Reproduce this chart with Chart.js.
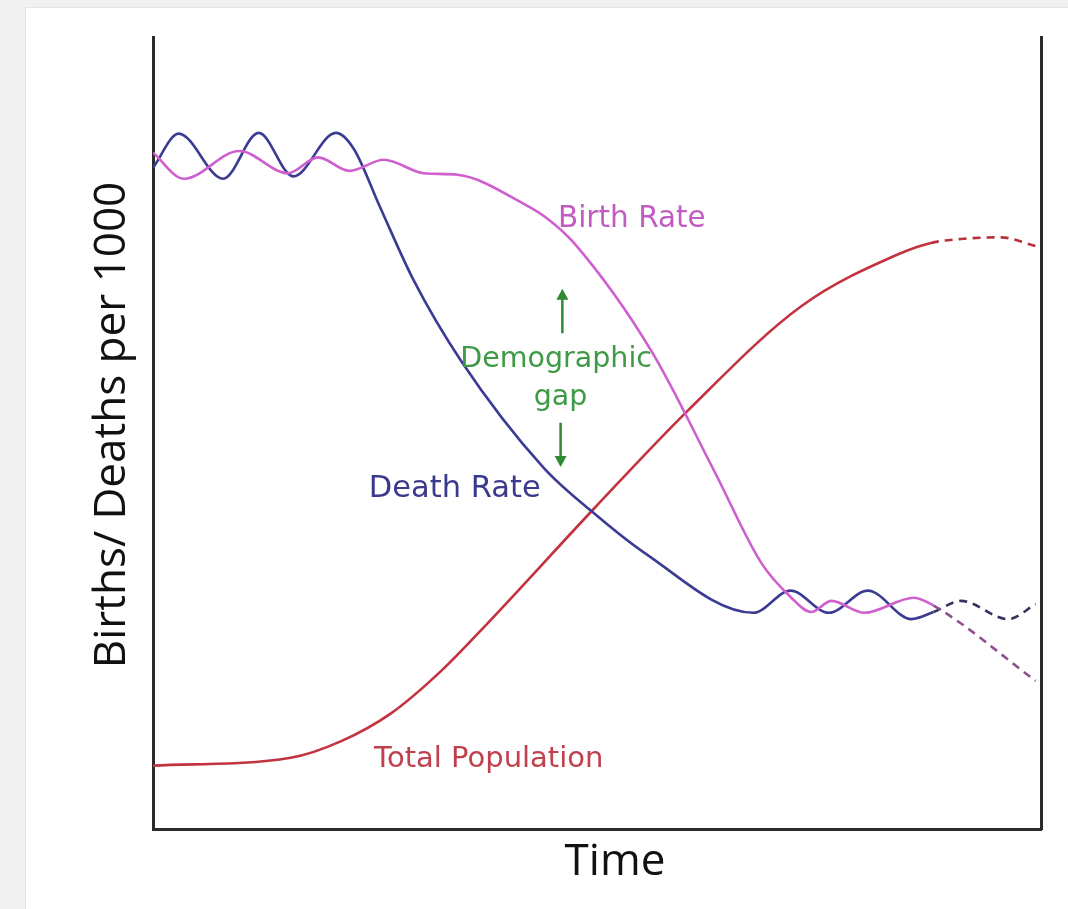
<!DOCTYPE html>
<html>
<head>
<meta charset="utf-8">
<script src="https://cdn.jsdelivr.net/npm/chart.js@4.4.1/dist/chart.umd.min.js"></script>
<style>
  html, body { margin: 0; padding: 0; background: #f1f1f1; width: 1068px; height: 909px; overflow: hidden; }
  #sheet { position: absolute; left: 25px; top: 7px; width: 1043px; height: 902px; background: #fff;
           border-left: 1px solid #e4e4e4; border-top: 1px solid #e4e4e4; box-sizing: border-box; }
  #wrap { position: absolute; left: 0; top: 0; width: 1043px; height: 902px; }
</style>
</head>
<body>
<div id="sheet"><div id="wrap"><canvas id="chart"></canvas></div></div>
<script>
// Time runs 0..100 across the plot, rates 0..100 up the plot (no ticks on the original)
const birthX = [0, 3.5, 9.7, 15.2, 18.6, 22.1, 26.0, 30.5, 34.3, 41.8, 44.5, 47.4, 56.1, 63.2, 68.5, 71.8, 74.1, 76.4, 80.1, 85.7, 87.9, 99.4];
const birthY = [85.4, 82.1, 85.6, 82.8, 84.8, 83.1, 84.5, 82.8, 82.6, 78.9, 77.0, 74.0, 60.4, 45.2, 33.6, 29.3, 27.4, 28.8, 27.3, 29.2, 28.2, 18.7];

const deathX = [0, 2.9, 7.9, 11.9, 15.8, 20.6, 22.6, 25.5, 29.3, 34.7, 44.0, 49.3, 55.3, 67.6, 71.8, 76.1, 80.5, 85.4, 87.9, 91.0, 96.3, 99.4];
const deathY = [83.5, 87.8, 82.1, 87.9, 82.4, 87.9, 85.9, 78.7, 69.4, 59.1, 45.6, 40.2, 34.9, 27.3, 30.1, 27.3, 30.1, 26.5, 27.4, 28.8, 26.5, 28.4];

const popX = [0, 15.5, 21.2, 26.8, 32.4, 37.7, 49.7, 60.2, 73.0, 84.2, 87.6, 91.0, 95.5, 99.4];
const popY = [8.0, 9.0, 11.1, 14.6, 19.9, 26.0, 40.5, 52.8, 66.0, 72.7, 74.0, 74.5, 74.7, 73.6];

// projection (dashed) starts here
const forecastFrom = 87.5;

const labels = [
  { text: 'Birth Rate', x: 45.6, y: 77.0, align: 'left', color: '#c25cc2', size: 29.5 },
  { text: 'Demographic', x: 45.4, y: 59.3, align: 'center', color: '#3f9a45', size: 28.5 },
  { text: 'gap', x: 45.9, y: 54.5, align: 'center', color: '#3f9a45', size: 28.5 },
  { text: 'Death Rate', x: 24.3, y: 42.9, align: 'left', color: '#3a3a8c', size: 30.5 },
  { text: 'Total Population', x: 24.9, y: 8.8, align: 'left', color: '#c0404e', size: 29 }
];
const arrows = [
  { x: 46.1, from: 62.6, to: 68.2 },
  { x: 45.9, from: 51.3, to: 45.7 }
];

const toPoints = (xs, ys) => xs.map((x, i) => ({ x: x, y: ys[i] }));

function series(label, xs, ys, color, dashColor) {
  return {
    label: label,
    data: toPoints(xs, ys),
    borderColor: color,
    borderWidth: 2.6,
    pointRadius: 0,
    cubicInterpolationMode: 'monotone',
    segment: {
      borderDash: c => c.p0.parsed.x >= forecastFrom ? [8, 6] : undefined,
      borderColor: c => c.p0.parsed.x >= forecastFrom ? dashColor : color
    }
  };
}

// text + arrows on top of the plot
const notes = {
  id: 'notes',
  afterDraw(chart) {
    const ctx = chart.ctx;
    const xs = chart.scales.x, ys = chart.scales.y;
    const area = chart.chartArea;
    ctx.save();
    ctx.textBaseline = 'middle';
    labels.forEach(l => {
      ctx.font = l.size + 'px "DejaVu Sans"';
      ctx.fillStyle = l.color;
      ctx.textAlign = l.align;
      ctx.fillText(l.text, xs.getPixelForValue(l.x), ys.getPixelForValue(l.y));
    });

    ctx.strokeStyle = '#2f8a35';
    ctx.fillStyle = '#2f8a35';
    ctx.lineWidth = 2.5;
    arrows.forEach(a => {
      const px = xs.getPixelForValue(a.x);
      const y0 = ys.getPixelForValue(a.from);
      const y1 = ys.getPixelForValue(a.to);
      const dir = y1 < y0 ? -1 : 1;
      ctx.beginPath();
      ctx.moveTo(px, y0);
      ctx.lineTo(px, y1 - dir * 8);
      ctx.stroke();
      ctx.beginPath();
      ctx.moveTo(px, y1);
      ctx.lineTo(px - 6, y1 - dir * 11);
      ctx.lineTo(px + 6, y1 - dir * 11);
      ctx.closePath();
      ctx.fill();
    });

    // axis titles
    ctx.fillStyle = '#111';
    ctx.font = '44px "Open Sans"';
    ctx.textAlign = 'center';
    ctx.fillText('Time', (area.left + area.right) / 2 + 18, area.bottom + 33);
    ctx.translate(area.left - 41, (area.top + area.bottom) / 2 - 8);
    ctx.rotate(-Math.PI / 2);
    ctx.fillText('Births/ Deaths per 1000', 0, 0);
    ctx.restore();
  }
};

const axisLine = { display: true, color: '#2b2b2b', width: 3 };

new Chart(document.getElementById('chart'), {
  type: 'line',
  data: {
    datasets: [
      series('Birth Rate', birthX, birthY, '#cf5fcf', '#8e4f8e'),
      series('Death Rate', deathX, deathY, '#3b3b94', '#34345e'),
      series('Total Population', popX, popY, '#c3333f', '#b8323e')
    ]
  },
  options: {
    responsive: true,
    maintainAspectRatio: false,
    animation: false,
    layout: { padding: { top: 29 } },
    plugins: { legend: { display: false }, tooltip: { enabled: false } },
    scales: {
      x: {
        type: 'linear', min: 0, max: 100,
        grid: { display: false }, ticks: { display: false }, border: axisLine,
        afterFit: s => { s.height = 81; }
      },
      y: {
        min: 0, max: 100,
        grid: { display: false }, ticks: { display: false }, border: axisLine,
        afterFit: s => { s.width = 127; }
      },
      y2: {
        position: 'right', min: 0, max: 100,
        grid: { display: false }, ticks: { display: false }, border: axisLine,
        afterFit: s => { s.width = 28; }
      }
    }
  },
  plugins: [notes]
});
</script>
</body>
</html>
